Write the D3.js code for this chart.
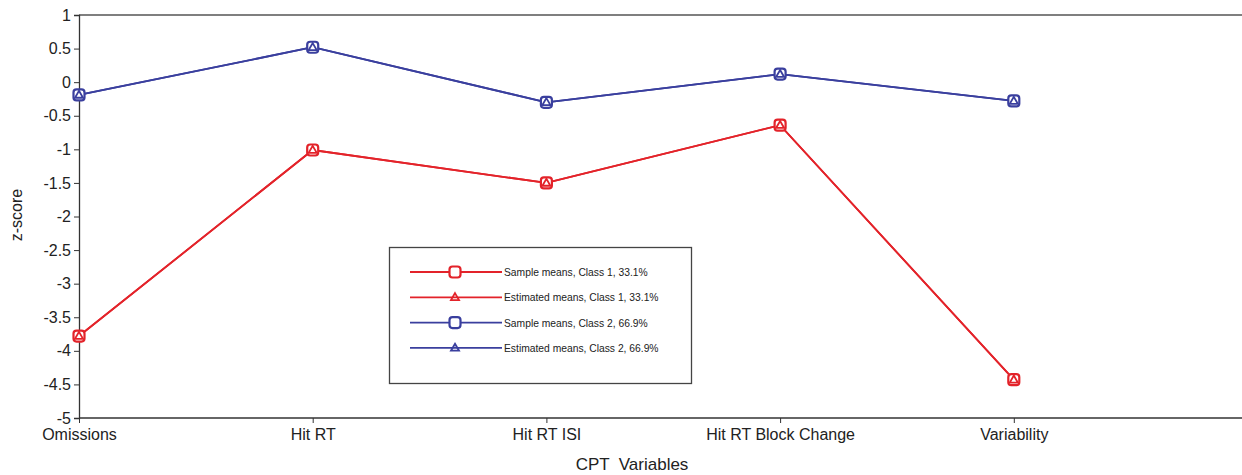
<!DOCTYPE html>
<html>
<head>
<meta charset="utf-8">
<script src="https://cdn.jsdelivr.net/npm/d3@7"></script>
<style>
  html, body { margin: 0; padding: 0; background: #fff; }
  svg { display: block; font-family: "Liberation Sans", Arial, sans-serif; }
</style>
</head>
<body>
<svg id="chart" width="1242" height="475"></svg>
<script>
// CPT variables on the x axis
const categories = ["Omissions", "Hit RT", "Hit RT ISI", "Hit RT Block Change", "Variability"];

// z-score profiles per latent class
const sampleClass1 = [-3.78, -1.01, -1.50, -0.64, -4.43];
const estimatedClass1 = [-3.78, -1.01, -1.50, -0.64, -4.43];
const sampleClass2 = [-0.19, 0.52, -0.30, 0.12, -0.28];
const estimatedClass2 = [-0.19, 0.52, -0.30, 0.12, -0.28];

const yTicks = [1, 0.5, 0, -0.5, -1, -1.5, -2, -2.5, -3, -3.5, -4, -4.5, -5];

const seriesNames = [
  "Sample means, Class 1, 33.1%",
  "Estimated means, Class 1, 33.1%",
  "Sample means, Class 2, 66.9%",
  "Estimated means, Class 2, 66.9%"
];

const RED = "#e3232a";
const BLUE = "#3a3f9e";

const series = [
  { name: seriesNames[0], values: sampleClass1, color: RED, marker: "square" },
  { name: seriesNames[1], values: estimatedClass1, color: RED, marker: "triangle" },
  { name: seriesNames[2], values: sampleClass2, color: BLUE, marker: "square" },
  { name: seriesNames[3], values: estimatedClass2, color: BLUE, marker: "triangle" }
];

const svg = d3.select("#chart");
const mLeft = 79, mRight = 1242, mTop = 15, mBottom = 418;

// five categories plus one empty slot on the right
const x = d3.scaleLinear().domain([0, 5]).range([mLeft, mLeft + 5 * 233.7]);
const y = d3.scaleLinear().domain([-5, 1]).range([mBottom, mTop]);

// frame: top border spans the width
svg.append("line").attr("x1", mLeft).attr("x2", mRight).attr("y1", mTop).attr("y2", mTop)
  .attr("stroke", "#555").attr("stroke-width", 1.3);

// y axis (plain hyphen minus signs)
const yAxis = d3.axisLeft(y).tickValues(yTicks).tickSize(5).tickPadding(3)
  .tickFormat(d => String(d));
const gy = svg.append("g").attr("transform", `translate(${mLeft},0)`).call(yAxis);
gy.select(".domain").attr("stroke", "#333").attr("stroke-width", 1.3);
gy.selectAll(".tick line").attr("stroke", "#333");
gy.selectAll(".tick text").attr("font-size", 16).attr("fill", "#222")
  .attr("font-family", "Liberation Sans, Arial, sans-serif");

// x axis
const xAxis = d3.axisBottom(x).tickValues(d3.range(categories.length))
  .tickFormat(i => categories[i]).tickSize(5).tickPadding(6);
const gx = svg.append("g").attr("transform", `translate(0,${mBottom})`).call(xAxis);
gx.select(".domain").remove();
gx.append("line").attr("x1", mLeft).attr("x2", mRight).attr("y1", 0).attr("y2", 0)
  .attr("stroke", "#333").attr("stroke-width", 1.3);
gx.selectAll(".tick line").attr("stroke", "#333");
gx.selectAll(".tick text").attr("font-size", 16).attr("fill", "#222")
  .attr("font-family", "Liberation Sans, Arial, sans-serif");

// axis titles
svg.append("text").attr("x", 632).attr("y", 470).attr("text-anchor", "middle")
  .attr("font-size", 17).attr("fill", "#222")
  .style("white-space", "pre").text("CPT  Variables");
svg.append("text").attr("transform", "translate(22,215) rotate(-90)")
  .attr("text-anchor", "middle").attr("font-size", 16).attr("fill", "#222").text("z-score");

// marker drawing
function drawMarker(g, type, color, cx, cy) {
  if (type === "square") {
    g.append("rect").attr("x", cx - 5.5).attr("y", cy - 5.5).attr("width", 11).attr("height", 11)
      .attr("rx", 3).attr("fill", "#fff").attr("stroke", color).attr("stroke-width", 2.2);
  } else {
    const tri = d3.symbol().type(d3.symbolTriangle).size(28);
    g.append("path").attr("d", tri()).attr("transform", `translate(${cx},${cy + 0.5})`)
      .attr("fill", "none").attr("stroke", color).attr("stroke-width", 1.8);
  }
}

const line = d3.line().x((d, i) => x(i)).y(d => y(d));
const plot = svg.append("g");
series.forEach(s => {
  plot.append("path").datum(s.values).attr("d", line).attr("fill", "none")
    .attr("stroke", s.color).attr("stroke-width", 1.8);
});
series.forEach(s => {
  const g = plot.append("g");
  s.values.forEach((v, i) => drawMarker(g, s.marker, s.color, x(i), y(v)));
});

// legend
const lg = svg.append("g");
lg.append("rect").attr("x", 389.5).attr("y", 247.5).attr("width", 302).attr("height", 136)
  .attr("fill", "#fff").attr("stroke", "#444").attr("stroke-width", 1.3);
series.forEach((s, k) => {
  const ly = 272 + k * 25.3;
  lg.append("line").attr("x1", 410).attr("x2", 502).attr("y1", ly).attr("y2", ly)
    .attr("stroke", s.color).attr("stroke-width", 1.8);
  drawMarker(lg, s.marker, s.color, 455, ly);
  lg.append("text").attr("x", 504).attr("y", ly + 4).attr("font-size", 10.3)
    .attr("fill", "#222").text(s.name);
});
</script>
</body>
</html>
